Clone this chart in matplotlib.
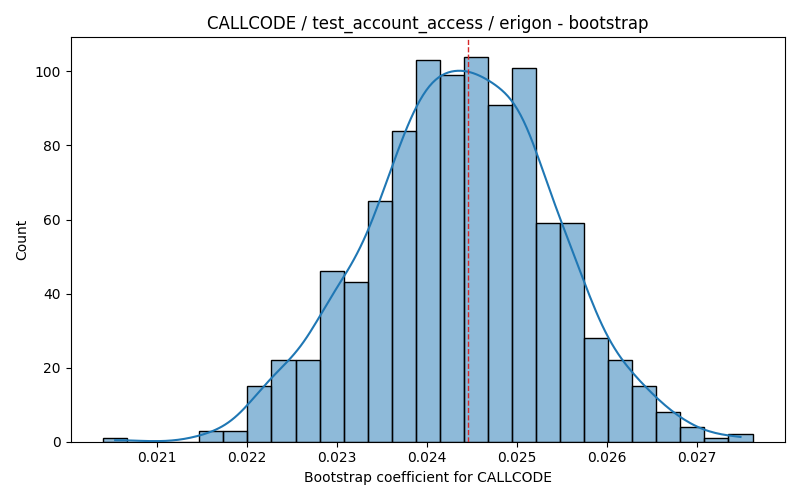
import matplotlib
matplotlib.use('Agg')
import numpy as np
import matplotlib.pyplot as plt
import seaborn as sns

x_min = 0.020397
x_max = 0.027619
counts = [1, 0, 0, 0, 3, 3, 15, 22, 22, 46, 43, 65, 84, 103, 99, 104, 91, 101,
          59, 59, 28, 22, 15, 8, 4, 1, 2]
mean_line = 0.02445

edges = np.linspace(x_min, x_max, len(counts) + 1)
centers = (edges[:-1] + edges[1:]) / 2
samples = np.repeat(centers, counts)

fig, ax = plt.subplots(figsize=(8, 5), dpi=100)
sns.histplot(x=samples, bins=list(edges), kde=True, ax=ax)
ax.axvline(mean_line, color='tab:red', linestyle='--', linewidth=1)
ax.set_title("CALLCODE / test_account_access / erigon - bootstrap")
ax.set_xlabel("Bootstrap coefficient for CALLCODE")
ax.set_ylabel("Count")
fig.tight_layout()
fig.savefig("out.png")
